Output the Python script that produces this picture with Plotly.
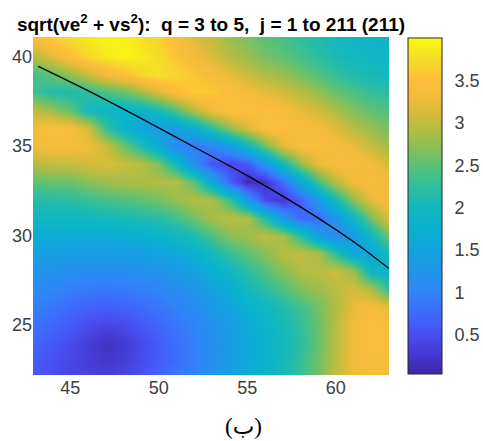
import numpy as np
import plotly.graph_objects as go

# ---- data ----
x_values = list(range(43, 64))          # grid columns (x)
y_values = list(range(41, 21, -1))      # grid rows, top to bottom (y = 41 .. 22)

# each column lists values from y=41 down to y=22
col_43 = [3.42, 2.93, 2.36, 2.34, 2.95, 3.35, 3.3, 2.92, 2.5, 2.15, 1.95, 1.7, 1.45, 1.25, 1.1, 0.95, 0.82, 0.7, 0.62, 0.55]
col_44 = [3.59, 3.19, 2.5, 2.15, 2.8, 3.45, 3.38, 3.0, 2.55, 2.18, 1.95, 1.68, 1.42, 1.2, 1.02, 0.86, 0.72, 0.6, 0.52, 0.48]
col_45 = [3.74, 3.46, 2.75, 2.11, 2.5, 3.42, 3.4, 3.02, 2.55, 2.2, 1.95, 1.66, 1.4, 1.16, 0.95, 0.76, 0.6, 0.47, 0.42, 0.42]
col_46 = [3.86, 3.7, 3.0, 2.22, 2.0, 3.1, 3.3, 3.1, 2.7, 2.28, 1.97, 1.65, 1.38, 1.13, 0.9, 0.68, 0.48, 0.32, 0.32, 0.38]
col_47 = [3.93, 3.86, 3.3, 2.42, 1.88, 2.3, 3.05, 3.15, 2.8, 2.38, 2.0, 1.65, 1.38, 1.12, 0.88, 0.65, 0.4, 0.18, 0.25, 0.36]
col_48 = [3.92, 3.94, 3.46, 2.54, 1.82, 1.82, 2.62, 3.05, 2.85, 2.42, 2.05, 1.67, 1.4, 1.14, 0.9, 0.68, 0.46, 0.28, 0.32, 0.42]
col_49 = [3.8, 3.88, 3.68, 2.83, 1.87, 1.5, 2.15, 2.96, 2.88, 2.5, 2.12, 1.75, 1.43, 1.18, 0.95, 0.76, 0.58, 0.45, 0.46, 0.55]
col_50 = [3.68, 3.76, 3.78, 3.16, 2.09, 1.36, 1.61, 2.65, 2.93, 2.6, 2.2, 1.82, 1.5, 1.24, 1.02, 0.86, 0.72, 0.62, 0.62, 0.72]
col_51 = [3.45, 3.56, 3.69, 3.45, 2.46, 1.41, 1.07, 2.0, 2.93, 2.75, 2.35, 1.95, 1.6, 1.34, 1.13, 0.98, 0.86, 0.8, 0.78, 0.9]
col_52 = [3.2, 3.34, 3.57, 3.62, 2.94, 1.74, 0.89, 1.14, 2.5, 2.93, 2.6, 2.12, 1.75, 1.45, 1.25, 1.1, 1.0, 0.95, 0.95, 1.05]
col_53 = [3.0, 3.14, 3.41, 3.59, 3.33, 2.24, 1.03, 0.55, 1.59, 2.89, 2.85, 2.4, 2.02, 1.72, 1.48, 1.3, 1.2, 1.15, 1.15, 1.25]
col_54 = [2.8, 2.94, 3.22, 3.48, 3.52, 2.74, 1.37, 0.4, 0.69, 2.33, 2.98, 2.7, 2.3, 1.95, 1.7, 1.5, 1.4, 1.35, 1.38, 1.45]
col_55 = [2.65, 2.78, 3.06, 3.35, 3.49, 3.13, 1.88, 0.59, 0.13, 1.37, 2.91, 2.8, 2.5, 2.2, 2.0, 1.75, 1.62, 1.58, 1.6, 1.65]
col_56 = [2.5, 2.62, 2.9, 3.22, 3.45, 3.43, 2.58, 1.21, 0.2, 0.44, 2.18, 2.98, 2.7, 2.45, 2.2, 1.95, 1.85, 1.8, 1.82, 1.85]
col_57 = [2.4, 2.52, 2.78, 3.1, 3.37, 3.5, 3.18, 2.01, 0.77, 0.25, 1.31, 2.85, 2.95, 2.7, 2.42, 2.15, 2.05, 2.0, 2.02, 2.05]
col_58 = [2.25, 2.38, 2.62, 2.94, 3.23, 3.41, 3.41, 2.7, 1.52, 0.65, 0.73, 2.25, 3.0, 2.9, 2.65, 2.35, 2.25, 2.2, 2.25, 2.3]
col_59 = [2.12, 2.22, 2.46, 2.76, 3.08, 3.34, 3.44, 3.23, 2.34, 1.29, 0.76, 1.47, 2.87, 2.95, 2.8, 2.6, 2.55, 2.55, 2.58, 2.6]
col_60 = [2.0, 2.08, 2.28, 2.55, 2.88, 3.17, 3.35, 3.4, 2.97, 2.05, 1.24, 1.04, 2.21, 3.05, 2.95, 2.9, 2.95, 2.95, 2.98, 3.0]
col_61 = [1.92, 1.98, 2.14, 2.4, 2.65, 2.93, 3.25, 3.39, 3.34, 2.73, 1.93, 1.36, 1.57, 2.78, 3.12, 3.25, 3.32, 3.32, 3.3, 3.28]
col_62 = [1.88, 1.93, 2.06, 2.28, 2.52, 2.76, 3.03, 3.33, 3.4, 3.22, 2.62, 1.92, 1.56, 1.9, 2.88, 3.4, 3.45, 3.45, 3.42, 3.4]
col_63 = [1.85, 1.88, 2.0, 2.2, 2.42, 2.62, 2.83, 3.1, 3.36, 3.4, 3.17, 2.62, 2.05, 1.8, 2.27, 3.19, 3.44, 3.45, 3.4, 3.35]

# black curve
curve_x = [43.2, 46.0, 49.0, 52.0, 55.0, 58.0, 61.0, 63.0]
curve_y = [39.46, 38.1, 36.55, 34.95, 33.35, 31.6, 29.65, 28.15]

x_ticks = [45, 50, 55, 60]
y_ticks = [25, 30, 35, 40]
cb_ticks = [0.5, 1, 1.5, 2, 2.5, 3, 3.5]
cb_ticktext = ["0.5", "1", "1.5", "2", "2.5", "3", "3.5"]

title_text = ("sqrt(ve<sup>2</sup> + vs<sup>2</sup>):\u00a0\u00a0q = 3 to 5,"
              "\u00a0\u00a0j = 1 to 211 (211)")
caption_text = "(ب)"

# ---- build figure ----
columns = [col_43, col_44, col_45, col_46, col_47, col_48, col_49, col_50, col_51, col_52,
           col_53, col_54, col_55, col_56, col_57, col_58, col_59, col_60, col_61, col_62, col_63]
z = np.array(columns).T[::-1]           # rows ordered y ascending
y_asc = y_values[::-1]

parula = [
    [0.000, "rgb(62,38,168)"],
    [0.063, "rgb(70,58,212)"],
    [0.125, "rgb(72,82,244)"],
    [0.188, "rgb(60,110,252)"],
    [0.250, "rgb(46,135,247)"],
    [0.3125, "rgb(30,151,232)"],
    [0.375, "rgb(18,165,222)"],
    [0.4375, "rgb(10,177,205)"],
    [0.500, "rgb(20,184,188)"],
    [0.5625, "rgb(50,190,155)"],
    [0.625, "rgb(95,193,115)"],
    [0.6875, "rgb(150,190,80)"],
    [0.750, "rgb(195,188,62)"],
    [0.8125, "rgb(237,187,58)"],
    [0.875, "rgb(253,190,58)"],
    [0.9375, "rgb(245,220,40)"],
    [1.000, "rgb(249,251,14)"],
]

W, H = 483, 441
L, R, T, B = 33, 389, 37, 375
pw, ph = R - L, B - T

fig = go.Figure()
fig.add_trace(go.Heatmap(
    x=x_values, y=y_asc, z=z, zsmooth="best",
    colorscale=parula, zmin=0.04, zmax=4.0,
    colorbar=dict(
        thickness=34, thicknessmode="pixels",
        len=336 / ph, lenmode="fraction",
        x=(408 - L) / pw, xanchor="left", xpad=0,
        y=0.5, yanchor="middle", ypad=0,
        outlinewidth=1, outlinecolor="#262626",
        tickvals=cb_ticks, ticktext=cb_ticktext,
        ticks="outside", ticklen=9, tickcolor="rgba(0,0,0,0)",
        tickfont=dict(family="Liberation Sans, Arial", size=18, color="#404040"),
    ),
    hoverinfo="skip",
))
fig.add_trace(go.Scatter(
    x=curve_x, y=curve_y, mode="lines",
    line=dict(color="black", width=1.3, shape="spline", smoothing=1.0),
    showlegend=False, hoverinfo="skip",
))

axis_font = dict(family="Liberation Sans, Arial", size=18, color="#404040")
fig.update_layout(
    width=W, height=H,
    margin=dict(l=L, r=W - R, t=T, b=H - B, autoexpand=False),
    paper_bgcolor="white", plot_bgcolor="white",
    xaxis=dict(range=[42.9, 63.0], tickvals=x_ticks, showgrid=False, zeroline=False,
               ticks="", showline=False, tickfont=axis_font, automargin=False),
    yaxis=dict(range=[22.2, 41.1], tickvals=y_ticks, showgrid=False, zeroline=False,
               ticks="", showline=False, tickfont=axis_font, automargin=False),
    title=dict(text="<b>" + title_text + "</b>", xref="paper", x=0.5, xanchor="center",
               yref="container", y=1 - 24 / H, yanchor="middle",
               font=dict(family="Liberation Sans, Arial", size=19, color="black")),
    annotations=[dict(text=caption_text, xref="paper", yref="paper",
                      x=(244 - L) / pw, y=(B - 427) / ph, xanchor="center", yanchor="middle",
                      showarrow=False,
                      font=dict(family="Liberation Serif, DejaVu Sans", size=23, color="black"))],
)

fig.write_html("out.html")
